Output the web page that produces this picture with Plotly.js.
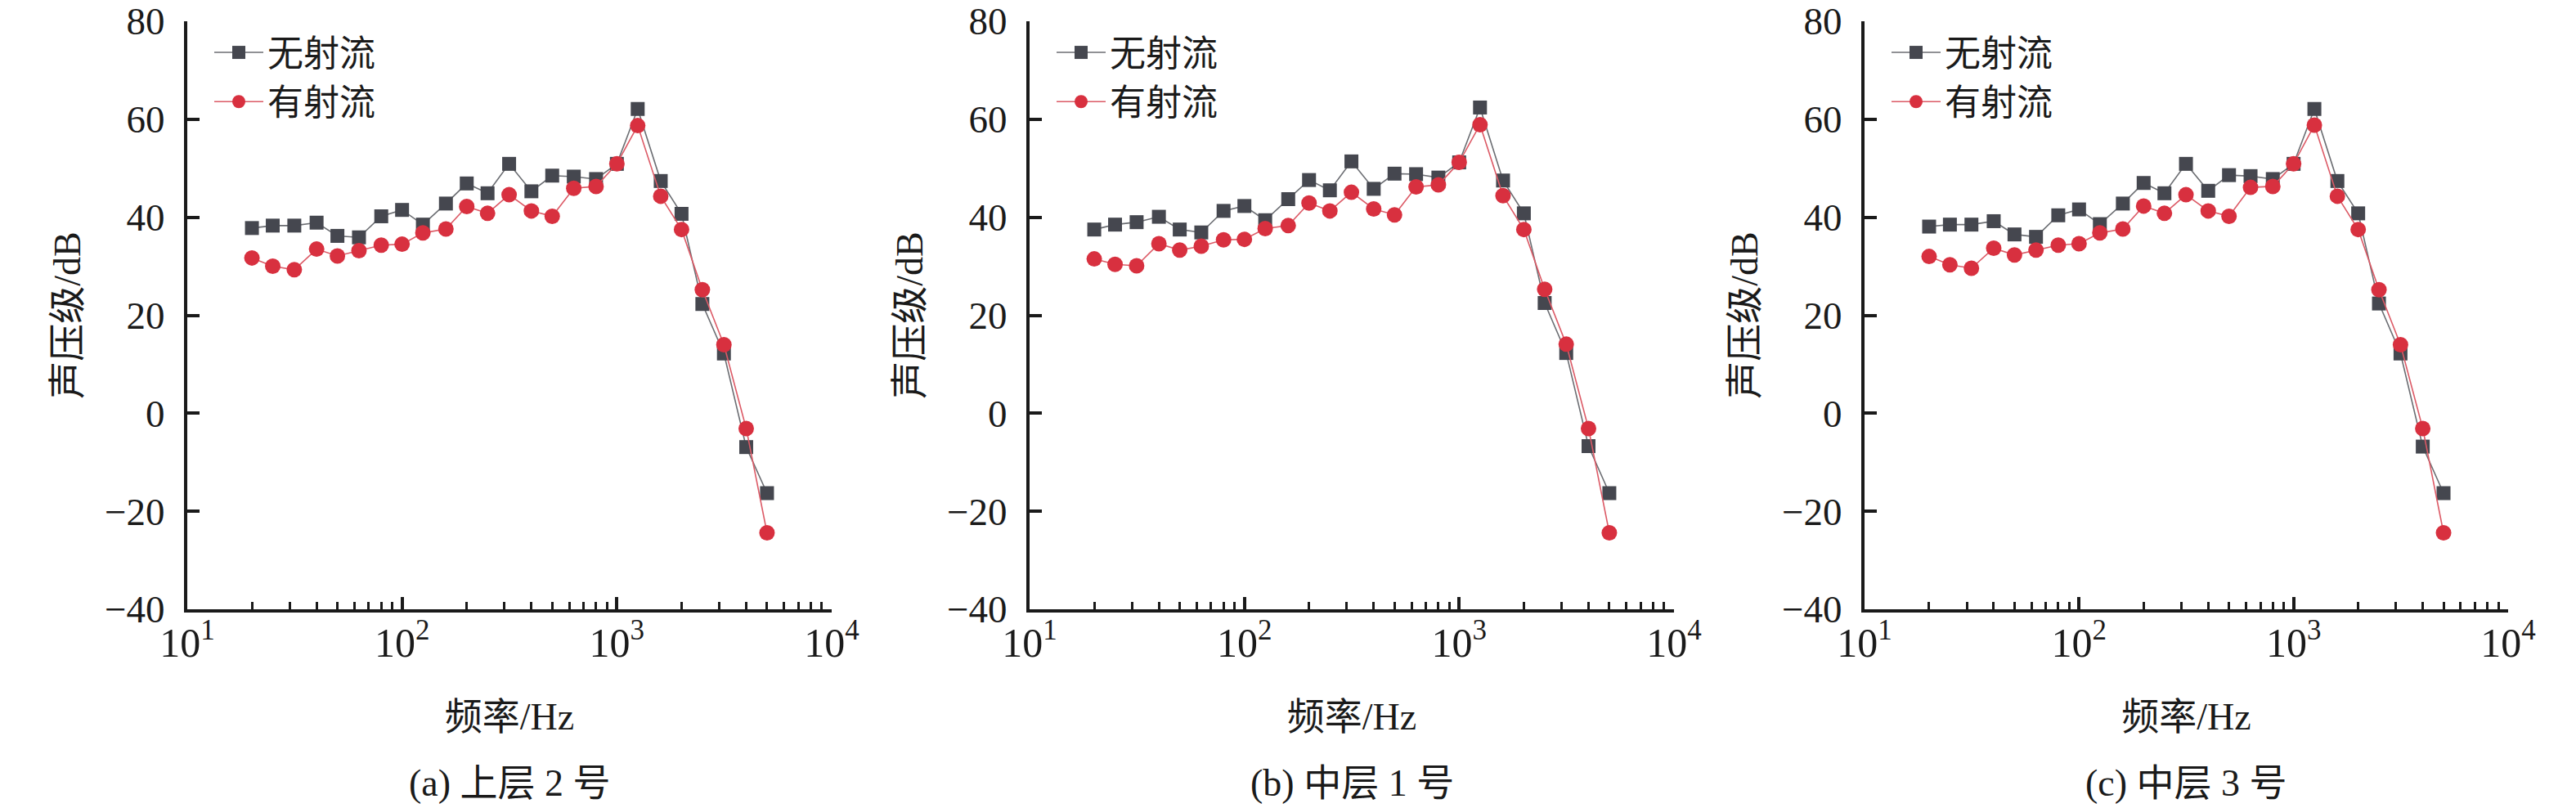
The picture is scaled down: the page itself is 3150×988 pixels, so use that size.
<!DOCTYPE html>
<html>
<head>
<meta charset="utf-8">
<script src="https://cdn.plot.ly/plotly-3.0.1.min.js"></script>
<style>
  body { margin: 0; background: #fff; }
  #chart { width: 3150px; height: 988px; }
</style>
</head>
<body>
<div id="chart"></div>
<script>
// 1/3 octave band centre frequencies, Hz
const freqs = [20, 25, 31.5, 40, 50, 63, 80, 100, 125, 160, 200, 250, 315, 400,
               500, 630, 800, 1000, 1250, 1600, 2000, 2500, 3150, 4000, 5000];

// (a) upper layer no. 2
const noJetA = [37.8, 38.3, 38.3, 38.9, 36.2, 35.9, 40.2, 41.5, 38.5, 42.8, 46.9, 44.9, 50.9,
                45.3, 48.5, 48.3, 47.8, 50.9, 62.1, 47.4, 40.7, 22.3, 12.2, -6.9, -16.3];
const jetA   = [31.7, 30.0, 29.3, 33.5, 32.1, 33.2, 34.3, 34.5, 36.8, 37.6, 42.2, 40.8, 44.6,
                41.3, 40.2, 45.9, 46.3, 50.9, 58.7, 44.3, 37.5, 25.2, 14.0, -3.1, -24.4];

// (b) middle layer no. 1
const noJetB = [37.5, 38.5, 39.0, 40.1, 37.5, 36.9, 41.3, 42.3, 39.4, 43.7, 47.6, 45.5, 51.4,
                45.8, 48.9, 48.8, 48.1, 51.2, 62.4, 47.5, 40.8, 22.5, 12.3, -6.7, -16.3];
const jetB   = [31.5, 30.4, 30.1, 34.6, 33.3, 34.1, 35.4, 35.5, 37.7, 38.3, 42.9, 41.3, 45.1,
                41.7, 40.5, 46.2, 46.6, 51.2, 58.9, 44.4, 37.5, 25.3, 14.1, -3.1, -24.4];

// (c) middle layer no. 3
const noJetC = [38.1, 38.5, 38.5, 39.2, 36.5, 36.0, 40.4, 41.6, 38.6, 42.8, 47.0, 44.9, 50.9,
                45.4, 48.6, 48.4, 47.8, 50.9, 62.1, 47.4, 40.8, 22.4, 12.2, -6.8, -16.3];
const jetC   = [32.0, 30.3, 29.6, 33.7, 32.3, 33.3, 34.3, 34.6, 36.8, 37.6, 42.3, 40.8, 44.6,
                41.3, 40.2, 46.1, 46.3, 50.9, 58.8, 44.3, 37.5, 25.2, 14.0, -3.1, -24.4];

const captions = ["(a) 上层 2 号", "(b) 中层 1 号", "(c) 中层 3 号"];
const seriesNames = ["无射流", "有射流"];
const xTickVals = [10, 100, 1000, 10000];
const xTickText = ["10<sup>1</sup>", "10<sup>2</sup>", "10<sup>3</sup>", "10<sup>4</sup>"];
const minorVals = [20, 30, 40, 50, 60, 70, 80, 90, 200, 300, 400, 500, 600, 700, 800, 900,
                   2000, 3000, 4000, 5000, 6000, 7000, 8000, 9000];

const panels = [[noJetA, jetA], [noJetB, jetB], [noJetC, jetC]];

const FONT = "Liberation Serif, Times New Roman, Noto Sans CJK SC, serif";
const ink = "#1a1a1a";
const dark = "#45474f";
const red = "#d8303f";

// pixel layout of each panel (left / right end of the x axis)
const W = 3150, H = 988;
const xDom = [[229, 1017], [1259, 2047], [2280, 3067]];
const yDom = [243 / H, 962 / H];

let traces = [];
let layout = {
    width: W,
    height: H,
    margin: {l: 0, r: 0, t: 0, b: 0},
    paper_bgcolor: "white",
    plot_bgcolor: "white",
    font: {family: FONT, color: ink, size: 46},
    annotations: []
};

panels.forEach(function (p, i) {
    let n = i + 1;
    let xa = n === 1 ? "x" : "x" + n;
    let ya = n === 1 ? "y" : "y" + n;
    let lg = n === 1 ? "legend" : "legend" + n;

    traces.push({
        x: freqs, y: p[0], xaxis: xa, yaxis: ya, legend: lg,
        name: seriesNames[0], type: "scatter", mode: "lines+markers",
        line: {color: "#6b6d72", width: 1.6},
        marker: {symbol: "square", size: 17, color: dark}
    });
    traces.push({
        x: freqs, y: p[1], xaxis: xa, yaxis: ya, legend: lg,
        name: seriesNames[1], type: "scatter", mode: "lines+markers",
        line: {color: "#dc5a66", width: 1.6},
        marker: {symbol: "circle", size: 19, color: red}
    });

    layout["xaxis" + (n === 1 ? "" : n)] = {
        type: "log",
        domain: [xDom[i][0] / W, xDom[i][1] / W],
        anchor: ya,
        range: [1, 4],
        tickmode: "array",
        tickvals: xTickVals,
        ticktext: xTickText,
        ticks: "inside", ticklen: 15, tickwidth: 4, tickcolor: ink,
        minor: {tickmode: "array", tickvals: minorVals, ticks: "inside",
                ticklen: 9, tickwidth: 3, tickcolor: ink},
        ticklabelstandoff: -6,
        tickfont: {family: FONT, size: 50, color: ink},
        showline: true, linewidth: 4, linecolor: ink,
        showgrid: false, zeroline: false,
        title: {text: "频率/Hz", font: {family: FONT, size: 46, color: ink}, standoff: 48}
    };
    layout["yaxis" + (n === 1 ? "" : n)] = {
        domain: yDom,
        anchor: xa,
        range: [-40, 80],
        tick0: 0, dtick: 20,
        ticks: "inside", ticklen: 15, tickwidth: 4, tickcolor: ink,
        ticklabelstandoff: 14,
        tickfont: {family: FONT, size: 47, color: ink},
        showline: true, linewidth: 4, linecolor: ink,
        showgrid: false, zeroline: false,
        title: {text: "声压级/dB", font: {family: FONT, size: 46, color: ink}, standoff: 16}
    };
    layout[lg] = {
        x: (xDom[i][0] + 28) / W, xanchor: "left",
        y: 962 / H - 0.003, yanchor: "top",
        bgcolor: "rgba(0,0,0,0)",
        font: {size: 44, family: FONT, color: ink},
        itemwidth: 60,
        tracegroupgap: 0
    };
    layout.annotations.push({
        xref: "paper", yref: "paper",
        x: (xDom[i][0] + xDom[i][1]) / 2 / W, y: (H - 957) / H,
        xanchor: "center", yanchor: "middle",
        text: captions[i], showarrow: false,
        font: {family: FONT, size: 46, color: ink}
    });
});

Plotly.newPlot("chart", traces, layout, {displayModeBar: false});
</script>
</body>
</html>
